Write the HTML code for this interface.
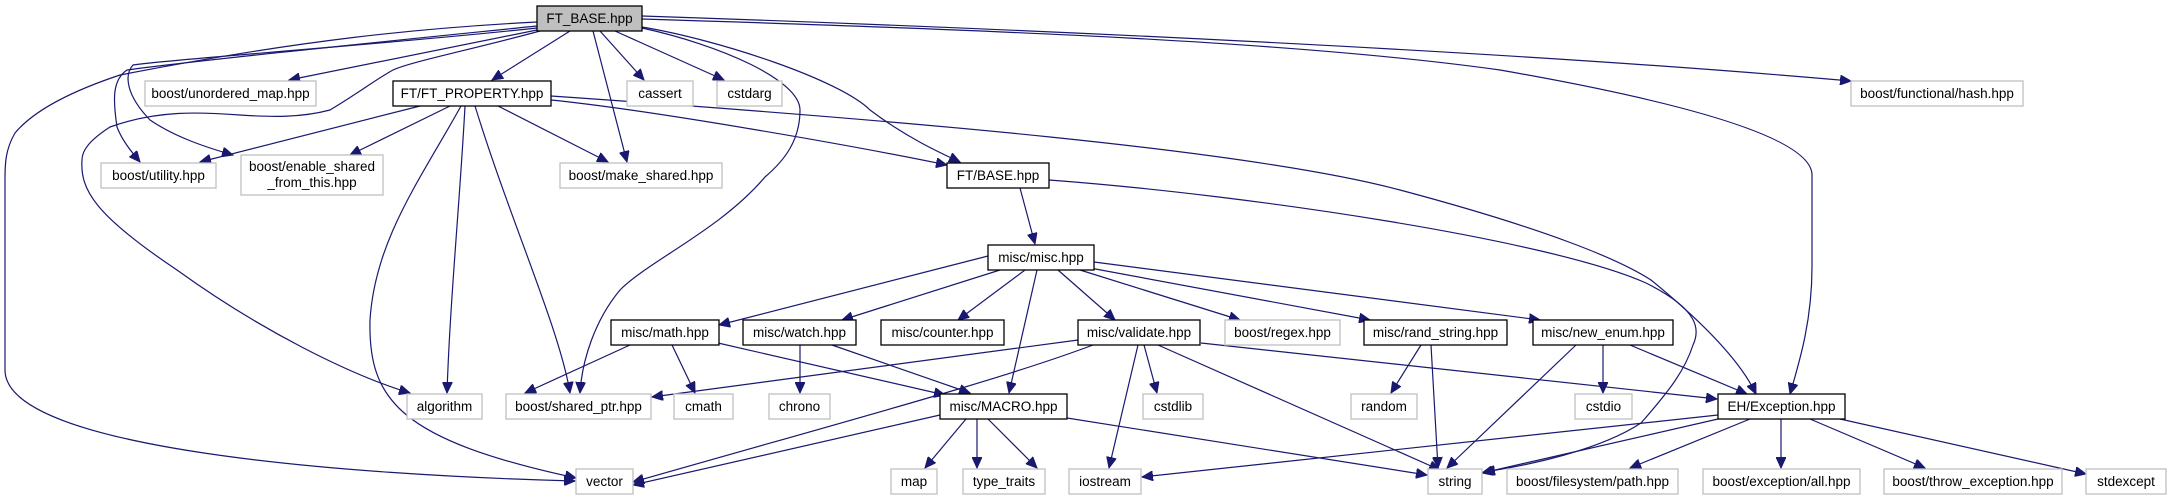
<!DOCTYPE html>
<html><head><meta charset="utf-8"><style>
html,body{margin:0;padding:0;background:#fff;}
svg{display:block;}
text{font-family:"Liberation Sans",sans-serif;font-size:13.5px;fill:#000;text-anchor:middle;}
.e{fill:none;stroke:#191970;stroke-width:1.2;marker-end:url(#a);}
.d{fill:#fff;stroke:#000;stroke-width:1.3;}
.x{fill:#fff;stroke:#bfbfbf;stroke-width:1.3;}
.m{fill:#bfbfbf;stroke:#000;stroke-width:1.3;}
</style></head><body>
<svg width="2167" height="500" viewBox="0 0 2167 500" xmlns="http://www.w3.org/2000/svg">
<defs><marker id="a" markerUnits="userSpaceOnUse" markerWidth="12" markerHeight="10" refX="11" refY="5" orient="auto"><path d="M0,0 L11,5 L0,10 Z" fill="#191970" stroke="#191970"/></marker></defs>

<!-- edges from FT_BASE -->
<path class="e" d="M537,22 C420,28 300,40 120,75 C60,95 30,115 15,133 C5,150 5,165 5,180 L5,370 C5,450 350,475 575,481"/>
<path class="e" d="M537,26 C400,40 200,60 127,70 C112,80 113,100 117,127 C122,140 130,150 140,162"/>
<path class="e" d="M537,28 C380,45 160,60 133,65 C124,75 126,95 150,120 C175,137 205,147 233,155"/>
<path class="e" d="M540,31 C470,50 410,62 393,70 C375,80 360,92 330,110 C300,118 270,117 240,115 C200,112 157,110 110,127 C90,140 82,150 82,160 C80,190 95,215 177,270 C260,330 350,375 410,393"/>
<path class="e" d="M537,30 L289,80"/>
<path class="e" d="M570,31 L492,80"/>
<path class="e" d="M593,31 L627,162"/>
<path class="e" d="M600,31 L644,80"/>
<path class="e" d="M615,31 L724,80"/>
<path class="e" d="M642,27 C720,40 840,80 870,110 C910,140 945,155 960,162"/>
<path class="e" d="M642,28 C720,45 800,80 800,110 C800,140 785,160 765,177 C720,230 650,260 620,290 C595,320 582,360 580,393"/>
<path class="e" d="M642,16 C1000,28 1500,50 1851,81"/>
<path class="e" d="M642,19 C1000,30 1300,42 1500,70 C1700,105 1812,140 1812,175 L1812,267 C1812,320 1800,360 1790,394"/>

<!-- FT_PROPERTY -->
<path class="e" d="M420,106 L200,162"/>
<path class="e" d="M450,106 L350,155"/>
<path class="e" d="M498,106 L608,162"/>
<path class="e" d="M551,100 C650,110 850,145 947,165"/>
<path class="e" d="M551,96 C900,120 1250,150 1400,190 C1550,230 1620,260 1651,280 C1700,320 1740,360 1756,394"/>
<path class="e" d="M465,106 C460,200 450,300 447,393"/>
<path class="e" d="M475,106 C510,220 560,330 570,393"/>
<path class="e" d="M461,106 C420,180 375,240 370,320 C368,400 400,440 576,478"/>

<!-- FT/BASE -->
<path class="e" d="M1020,188 L1035,244"/>
<path class="e" d="M1049,180 C1250,195 1550,240 1646,283 C1700,310 1700,330 1693,345 C1685,370 1670,390 1641,423 C1600,450 1530,465 1484,472"/>

<!-- misc/misc -->
<path class="e" d="M988,256 L719,325"/>
<path class="e" d="M1000,270 L842,320"/>
<path class="e" d="M1025,270 L958,320"/>
<path class="e" d="M1037,270 L1009,393"/>
<path class="e" d="M1058,270 L1115,320"/>
<path class="e" d="M1080,270 L1240,320"/>
<path class="e" d="M1090,268 L1370,320"/>
<path class="e" d="M1094,262 L1540,320"/>

<!-- misc/math -->
<path class="e" d="M630,345 L525,393"/>
<path class="e" d="M672,345 L695,393"/>
<path class="e" d="M718,343 L945,395"/>
<!-- watch -->
<path class="e" d="M800,345 L800,393"/>
<path class="e" d="M832,345 L970,393"/>
<!-- validate -->
<path class="e" d="M1078,340 L652,397"/>
<path class="e" d="M1093,345 C1000,380 850,420 633,482"/>
<path class="e" d="M1144,345 L1157,393"/>
<path class="e" d="M1138,345 L1109,468"/>
<path class="e" d="M1158,345 L1440,470"/>
<path class="e" d="M1201,343 L1717,399"/>
<!-- MACRO -->
<path class="e" d="M940,415 L633,485"/>
<path class="e" d="M966,419 L925,468"/>
<path class="e" d="M977,419 L977,468"/>
<path class="e" d="M988,419 L1037,468"/>
<path class="e" d="M1067,418 L1427,475"/>
<!-- rand_string -->
<path class="e" d="M1421,345 L1391,393"/>
<path class="e" d="M1431,345 L1438,468"/>
<!-- new_enum -->
<path class="e" d="M1576,345 L1447,468"/>
<path class="e" d="M1603,345 L1603,393"/>
<path class="e" d="M1630,345 L1747,394"/>
<!-- Exception -->
<path class="e" d="M1718,415 L1142,477"/>
<path class="e" d="M1718,419 L1482,473"/>
<path class="e" d="M1750,419 L1630,468"/>
<path class="e" d="M1781,419 L1781,468"/>
<path class="e" d="M1810,419 L1925,468"/>
<path class="e" d="M1840,419 L2086,474"/>

<!-- nodes -->
<rect class="m" x="537" y="6" width="105" height="25"/><text x="589.5" y="23">FT_BASE.hpp</text>
<rect class="x" x="145" y="81" width="171" height="25"/><text x="230.5" y="98">boost/unordered_map.hpp</text>
<rect class="d" x="393" y="81" width="158" height="25"/><text x="472" y="98">FT/FT_PROPERTY.hpp</text>
<rect class="x" x="627" y="81" width="66" height="25"/><text x="660" y="98">cassert</text>
<rect class="x" x="717" y="81" width="65" height="25"/><text x="749.5" y="98">cstdarg</text>
<rect class="x" x="1851" y="81" width="172" height="25"/><text x="1937" y="98">boost/functional/hash.hpp</text>
<rect class="x" x="101" y="163" width="115" height="25"/><text x="158.5" y="180">boost/utility.hpp</text>
<rect class="x" x="241" y="155" width="142" height="40"/><text x="312" y="171">boost/enable_shared</text><text x="312" y="187">_from_this.hpp</text>
<rect class="x" x="560" y="163" width="162" height="25"/><text x="641" y="180">boost/make_shared.hpp</text>
<rect class="d" x="947" y="163" width="102" height="25"/><text x="998" y="180">FT/BASE.hpp</text>
<rect class="d" x="988" y="245" width="106" height="25"/><text x="1041" y="262">misc/misc.hpp</text>
<rect class="d" x="611" y="320" width="108" height="25"/><text x="665" y="337">misc/math.hpp</text>
<rect class="d" x="743" y="320" width="113" height="25"/><text x="799.5" y="337">misc/watch.hpp</text>
<rect class="d" x="881" y="320" width="123" height="25"/><text x="942.5" y="337">misc/counter.hpp</text>
<rect class="d" x="1078" y="320" width="122" height="25"/><text x="1139" y="337">misc/validate.hpp</text>
<rect class="x" x="1225" y="320" width="115" height="25"/><text x="1282.5" y="337">boost/regex.hpp</text>
<rect class="d" x="1364" y="320" width="143" height="25"/><text x="1435.5" y="337">misc/rand_string.hpp</text>
<rect class="d" x="1533" y="320" width="140" height="25"/><text x="1603" y="337">misc/new_enum.hpp</text>
<rect class="x" x="407" y="394" width="75" height="25"/><text x="444.5" y="411">algorithm</text>
<rect class="x" x="506" y="394" width="145" height="25"/><text x="578.5" y="411">boost/shared_ptr.hpp</text>
<rect class="x" x="674" y="394" width="59" height="25"/><text x="703.5" y="411">cmath</text>
<rect class="x" x="769" y="394" width="61" height="25"/><text x="799.5" y="411">chrono</text>
<rect class="d" x="940" y="394" width="127" height="25"/><text x="1003.5" y="411">misc/MACRO.hpp</text>
<rect class="x" x="1143" y="394" width="60" height="25"/><text x="1173" y="411">cstdlib</text>
<rect class="x" x="1351" y="394" width="66" height="25"/><text x="1384" y="411">random</text>
<rect class="x" x="1575" y="394" width="57" height="25"/><text x="1603.5" y="411">cstdio</text>
<rect class="d" x="1718" y="394" width="127" height="25"/><text x="1781.5" y="411">EH/Exception.hpp</text>
<rect class="x" x="576" y="469" width="57" height="25"/><text x="604.5" y="486">vector</text>
<rect class="x" x="891" y="469" width="46" height="25"/><text x="914" y="486">map</text>
<rect class="x" x="963" y="469" width="82" height="25"/><text x="1004" y="486">type_traits</text>
<rect class="x" x="1069" y="469" width="72" height="25"/><text x="1105" y="486">iostream</text>
<rect class="x" x="1428" y="469" width="54" height="25"/><text x="1455" y="486">string</text>
<rect class="x" x="1507" y="469" width="171" height="25"/><text x="1592.5" y="486">boost/filesystem/path.hpp</text>
<rect class="x" x="1703" y="469" width="157" height="25"/><text x="1781.5" y="486">boost/exception/all.hpp</text>
<rect class="x" x="1884" y="469" width="178" height="25"/><text x="1973" y="486">boost/throw_exception.hpp</text>
<rect class="x" x="2086" y="469" width="80" height="25"/><text x="2126" y="486">stdexcept</text>
</svg>
</body></html>
